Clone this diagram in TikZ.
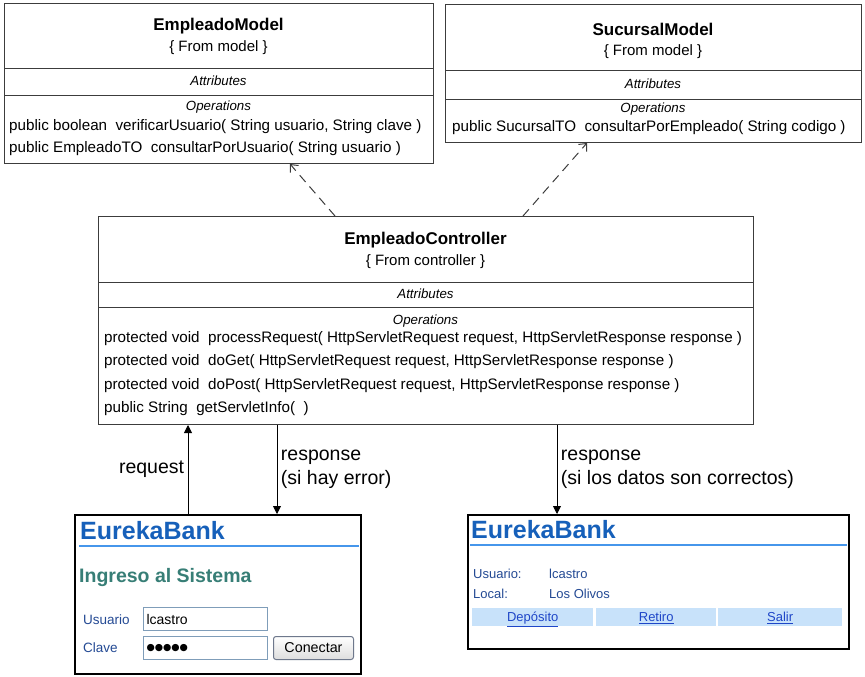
\documentclass[tikz,border=0pt]{standalone}
\usepackage{fontspec}
\setmainfont{Liberation Sans}
\newfontfamily\dotsfont{DejaVu Sans}
\usetikzlibrary{arrows.meta}

\definecolor{boxline}{RGB}{60,60,60}
\definecolor{eurekablue}{RGB}{22,96,186}
\definecolor{headerline}{RGB}{70,150,235}
\definecolor{ingresoteal}{RGB}{55,126,118}
\definecolor{labelblue}{RGB}{36,74,148}
\definecolor{linkblue}{RGB}{30,70,200}
\definecolor{menufill}{RGB}{200,226,250}
\definecolor{fieldborder}{RGB}{127,157,185}
\definecolor{buttonline}{RGB}{110,120,140}

\newcommand{\fsz}[2]{\fontsize{#1}{#2}\selectfont}

\begin{document}
\begin{tikzpicture}[x=1pt, y=-1pt,
  classbox/.style={draw=boxline, line width=1pt, anchor=north west, inner sep=0pt},
  sepline/.style={draw=boxline, line width=1pt},
  ctitle/.style={font=\bfseries\fsz{17}{20}, inner sep=0pt},
  cstereo/.style={font=\fsz{15}{18}, inner sep=0pt},
  csection/.style={font=\itshape\fsz{13.3}{16}, inner sep=0pt},
  cop/.style={font=\fsz{15.2}{18}, inner sep=0pt, anchor=west},
  dep/.style={draw=boxline, line width=1pt, dash pattern=on 9pt off 6pt,
    -{Straight Barb[length=6pt,width=11pt]}},
  flow/.style={draw=black, line width=0.9pt, -{Triangle[length=8pt,width=8pt]}},
  lbl/.style={font=\fsz{19.5}{24}, align=left, inner sep=3.5pt},
  screen/.style={draw=black, line width=2.2pt, fill=white, anchor=north west, inner sep=0pt},
  brand/.style={font=\bfseries\fsz{25}{28}, text=eurekablue, anchor=west, inner sep=0pt},
  formlabel/.style={font=\fsz{13.5}{16}, text=labelblue, anchor=west, inner sep=0pt},
  field/.style={draw=fieldborder, line width=1pt, anchor=north west, text width=118pt,
    inner xsep=3pt, inner ysep=0pt, minimum height=23pt, align=left, font=\fsz{14}{16}},
  menucell/.style={fill=menufill, anchor=north west, minimum height=18pt, inner sep=0pt,
    text height=11pt, text depth=2pt, font=\fsz{13}{16}, text=linkblue}
]
\useasboundingbox (0,0) rectangle (865,677);

% EmpleadoModel class
\node[classbox, minimum width=429pt, minimum height=160pt] (empmodel) at (4,3) {};
\draw[sepline] (4,69) -- (433,69);
\draw[sepline] (4,95) -- (433,95);
\node[ctitle] (empmodelname) at (218.5,26) {EmpleadoModel};
\node[cstereo] (empmodelpkg) at (218.5,48) {\{ From model \}};
\node[csection] (empmodelattr) at (218.5,81) {Attributes};
\node[csection] (empmodelops) at (218.5,107) {Operations};
\node[cop] (empmodelop1) at (9,127) {public boolean\ \ verificarUsuario( String usuario, String clave )};
\node[cop] (empmodelop2) at (9,149) {public EmpleadoTO\ \ consultarPorUsuario( String usuario )};

% SucursalModel class
\node[classbox, minimum width=416pt, minimum height=138pt] (sucmodel) at (445,4) {};
\draw[sepline] (445,71) -- (861,71);
\draw[sepline] (445,99) -- (861,99);
\node[ctitle] (sucmodelname) at (653,29) {SucursalModel};
\node[cstereo] (sucmodelpkg) at (653,52) {\{ From model \}};
\node[csection] (sucmodelattr) at (653,84) {Attributes};
\node[csection] (sucmodelops) at (653,109) {Operations};
\node[cop] (sucmodelop1) at (452,128) {public SucursalTO\ \ consultarPorEmpleado( String codigo )};

% EmpleadoController class
\node[classbox, minimum width=655pt, minimum height=208pt] (ctrl) at (98,216) {};
\draw[sepline] (98,282) -- (753,282);
\draw[sepline] (98,307) -- (753,307);
\node[ctitle] (ctrlname) at (425.5,240) {EmpleadoController};
\node[cstereo] (ctrlpkg) at (425.5,262) {\{ From controller \}};
\node[csection] (ctrlattr) at (425.5,294) {Attributes};
\node[csection] (ctrlops) at (425.5,321) {Operations};
\node[cop] (ctrlop1) at (104,339) {protected void\ \ processRequest( HttpServletRequest request, HttpServletResponse response )};
\node[cop] (ctrlop2) at (104,362) {protected void\ \ doGet( HttpServletRequest request, HttpServletResponse response )};
\node[cop] (ctrlop3) at (104,386) {protected void\ \ doPost( HttpServletRequest request, HttpServletResponse response )};
\node[cop] (ctrlop4) at (104,409) {public String\ \ getServletInfo(\ \ )};

% dependencies
\draw[dep] ([xshift=237pt]ctrl.north west) -- ([xshift=286pt]empmodel.south west);
\draw[dep] ([xshift=425pt]ctrl.north west) -- ([xshift=142pt]sucmodel.south west);

% login page
\node[screen, minimum width=286pt, minimum height=159pt] (login) at (74,514) {};
\node[brand] (loginbrand) at (80,531) {EurekaBank};
\draw[headerline, line width=1.2pt] (79,546) -- (359,546);
\node[font=\bfseries\fsz{19.5}{22}, text=ingresoteal, anchor=west, inner sep=0pt] (loginhead) at (79,577) {Ingreso al Sistema};
\node[formlabel] (userlabel) at (83,620) {Usuario};
\node[formlabel] (keylabel) at (83,648) {Clave};
\node[field] (userfield) at (143,607) {lcastro};
\node[field] (keyfield) at (143,636) {\dotsfont\fsz{9.5}{12}●●●●●};
\node[draw=buttonline, line width=1pt, rounded corners=2.5pt, top color=white, bottom color=black!13,
  anchor=north west, minimum width=80pt, minimum height=23pt, inner sep=0pt,
  font=\fsz{14.3}{16}] (connect) at (273,636) {Conectar};

% main page
\node[screen, minimum width=381pt, minimum height=134pt] (home) at (467,514) {};
\node[brand] (homebrand) at (471,530) {EurekaBank};
\draw[headerline, line width=1.2pt] (470,545) -- (847,545);
\node[formlabel, font=\fsz{13}{16}] (homeuserlabel) at (473,574) {Usuario:};
\node[formlabel, font=\fsz{13}{16}] (homeuser) at (549,574) {lcastro};
\node[formlabel, font=\fsz{13}{16}] (homelocallabel) at (473,594) {Local:};
\node[formlabel, font=\fsz{13}{16}] (homelocal) at (549,594) {Los Olivos};
\node[menucell, minimum width=121pt] (deposit) at (472,608) {\underline{Depósito}};
\node[menucell, minimum width=120pt] (withdraw) at (596,608) {\underline{Retiro}};
\node[menucell, minimum width=124pt] (logout) at (718,608) {\underline{Salir}};

% requests and responses
\draw[flow] ([xshift=114pt]login.north west) coordinate (rqstart) -- (rqstart |- ctrl.south)
  node[lbl, midway, left] (rqlabel) {request};
\draw[flow] ([xshift=179pt]ctrl.south west) coordinate (errstart) -- (errstart |- login.north)
  node[lbl, midway, right] (errlabel) {response\\(si hay error)};
\draw[flow] ([xshift=459pt]ctrl.south west) coordinate (okstart) -- (okstart |- home.north)
  node[lbl, midway, right] (oklabel) {response\\(si los datos son correctos)};

\end{tikzpicture}
\end{document}
